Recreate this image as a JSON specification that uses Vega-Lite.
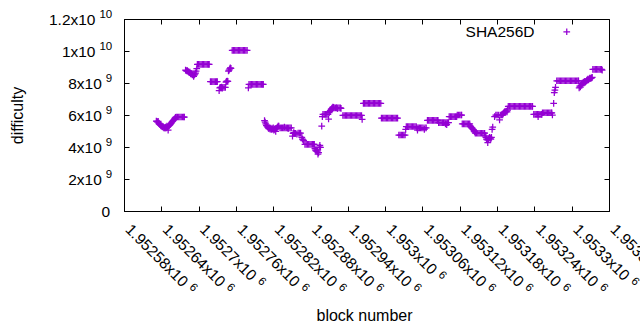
{
  "$schema": "https://vega.github.io/schema/vega-lite/v6.json",
  "width": 485,
  "height": 192,
  "autosize": {"type": "none"},
  "padding": {"left": 124, "top": 19, "right": 31, "bottom": 119},
  "background": "white",
  "config": {
    "font": "Liberation Sans",
    "view": {"stroke": "black", "strokeWidth": 1},
    "axis": {
      "grid": false,
      "domainColor": "black",
      "tickColor": "black",
      "tickSize": -5,
      "labelColor": "black",
      "titleColor": "black",
      "labelFont": "Liberation Sans",
      "titleFont": "Liberation Sans",
      "labelFontSize": 15.5,
      "titleFontSize": 16,
      "titleFontWeight": "normal"
    },
    "legend": {"labelFont": "Liberation Sans"}
  },
  "data": {
    "values": [
      {"block":1952632,"diff":5.62e9},{"block":1952633,"diff":5.6e9},{"block":1952634,"diff":5.55e9},{"block":1952635,"diff":5.6e9},{"block":1952636,"diff":5.5e9},{"block":1952637,"diff":5.45e9},{"block":1952638,"diff":5.4e9},{"block":1952639,"diff":5.35e9},{"block":1952640,"diff":5.3e9},{"block":1952641,"diff":5.3e9},{"block":1952642,"diff":5.25e9},{"block":1952643,"diff":5.28e9},{"block":1952644,"diff":5.2e9},{"block":1952645,"diff":5.22e9},{"block":1952646,"diff":5.18e9},{"block":1952647,"diff":5.25e9},{"block":1952648,"diff":5.2e9},{"block":1952649,"diff":5.3e9},{"block":1952650,"diff":5.25e9},{"block":1952651,"diff":5.05e9},{"block":1952652,"diff":5.3e9},{"block":1952653,"diff":5.35e9},{"block":1952654,"diff":5.4e9},{"block":1952655,"diff":5.45e9},{"block":1952656,"diff":5.5e9},{"block":1952657,"diff":5.55e9},{"block":1952658,"diff":5.6e9},{"block":1952659,"diff":5.65e9},{"block":1952660,"diff":5.7e9},{"block":1952661,"diff":5.75e9},{"block":1952662,"diff":5.8e9},{"block":1952663,"diff":5.85e9},
      {"block":1952664,"diff":5.875e9},{"block":1952666,"diff":5.875e9},{"block":1952668,"diff":5.875e9},{"block":1952670,"diff":5.875e9},{"block":1952672,"diff":5.875e9},{"block":1952674,"diff":5.875e9},{"block":1952676,"diff":5.875e9},{"block":1952677,"diff":5.875e9},
      {"block":1952679,"diff":8.8e9},{"block":1952680,"diff":8.78e9},{"block":1952681,"diff":8.75e9},{"block":1952682,"diff":8.78e9},{"block":1952683,"diff":8.72e9},{"block":1952684,"diff":8.7e9},{"block":1952685,"diff":8.65e9},{"block":1952686,"diff":8.68e9},{"block":1952687,"diff":8.6e9},{"block":1952688,"diff":8.55e9},{"block":1952689,"diff":8.6e9},{"block":1952690,"diff":8.5e9},{"block":1952691,"diff":8.55e9},{"block":1952692,"diff":8.42e9},{"block":1952693,"diff":8.5e9},{"block":1952694,"diff":8.55e9},{"block":1952695,"diff":8.62e9},{"block":1952696,"diff":8.75e9},{"block":1952697,"diff":8.9e9},
      {"block":1952698,"diff":9.17e9},{"block":1952700,"diff":9.17e9},{"block":1952702,"diff":9.17e9},{"block":1952704,"diff":9.17e9},{"block":1952706,"diff":9.17e9},{"block":1952708,"diff":9.17e9},{"block":1952710,"diff":9.17e9},{"block":1952712,"diff":9.17e9},{"block":1952714,"diff":9.17e9},{"block":1952716,"diff":9.17e9},{"block":1952717,"diff":9.17e9},
      {"block":1952719,"diff":8.08e9},{"block":1952721,"diff":8.08e9},{"block":1952723,"diff":8.08e9},{"block":1952725,"diff":8.08e9},{"block":1952727,"diff":8.08e9},{"block":1952729,"diff":8.08e9},{"block":1952730,"diff":8.08e9},
      {"block":1952733,"diff":7.52e9},{"block":1952734,"diff":7.7e9},{"block":1952735,"diff":7.73e9},{"block":1952737,"diff":7.75e9},{"block":1952738,"diff":7.68e9},{"block":1952739,"diff":7.73e9},{"block":1952741,"diff":7.73e9},{"block":1952743,"diff":7.73e9},{"block":1952744,"diff":8.05e9},{"block":1952745,"diff":8.1e9},{"block":1952746,"diff":8.12e9},{"block":1952747,"diff":8.1e9},{"block":1952748,"diff":8.75e9},{"block":1952749,"diff":8.8e9},{"block":1952750,"diff":8.88e9},{"block":1952751,"diff":8.95e9},{"block":1952752,"diff":8.92e9},
      {"block":1952754,"diff":1.0044e10},{"block":1952756,"diff":1.0044e10},{"block":1952758,"diff":1.0044e10},{"block":1952760,"diff":1.0044e10},{"block":1952762,"diff":1.0044e10},{"block":1952764,"diff":1.0044e10},{"block":1952766,"diff":1.0044e10},{"block":1952768,"diff":1.0044e10},{"block":1952770,"diff":1.0044e10},{"block":1952772,"diff":1.0044e10},{"block":1952774,"diff":1.0044e10},{"block":1952776,"diff":1.0044e10},{"block":1952778,"diff":1.0044e10},
      {"block":1952780,"diff":7.7e9},{"block":1952781,"diff":7.92e9},{"block":1952783,"diff":7.92e9},{"block":1952785,"diff":7.92e9},{"block":1952787,"diff":7.92e9},{"block":1952789,"diff":7.92e9},{"block":1952791,"diff":7.92e9},{"block":1952793,"diff":7.92e9},{"block":1952795,"diff":7.92e9},{"block":1952797,"diff":7.92e9},{"block":1952799,"diff":7.92e9},{"block":1952801,"diff":7.92e9},{"block":1952803,"diff":7.92e9},{"block":1952804,"diff":7.92e9},
      {"block":1952806,"diff":5.65e9},{"block":1952807,"diff":5.55e9},{"block":1952808,"diff":5.45e9},{"block":1952809,"diff":5.35e9},{"block":1952810,"diff":5.3e9},{"block":1952811,"diff":5.25e9},{"block":1952812,"diff":5.2e9},{"block":1952813,"diff":5.15e9},{"block":1952814,"diff":5.2e9},{"block":1952815,"diff":5.12e9},{"block":1952816,"diff":5.18e9},{"block":1952817,"diff":5.1e9},{"block":1952818,"diff":5.15e9},{"block":1952819,"diff":5.12e9},{"block":1952820,"diff":5.2e9},{"block":1952821,"diff":5.05e9},{"block":1952822,"diff":5.1e9},{"block":1952823,"diff":5.15e9},{"block":1952824,"diff":4.98e9},{"block":1952825,"diff":5.15e9},{"block":1952826,"diff":5.2e9},{"block":1952827,"diff":5.25e9},{"block":1952828,"diff":5.3e9},{"block":1952829,"diff":5.3e9},
      {"block":1952831,"diff":5.2e9},{"block":1952833,"diff":5.2e9},{"block":1952835,"diff":5.2e9},{"block":1952837,"diff":5.2e9},{"block":1952838,"diff":5.25e9},{"block":1952839,"diff":5.2e9},{"block":1952841,"diff":5.2e9},{"block":1952843,"diff":5.2e9},{"block":1952844,"diff":5.15e9},{"block":1952845,"diff":5.2e9},{"block":1952847,"diff":5.2e9},{"block":1952849,"diff":5.2e9},
      {"block":1952851,"diff":4.68e9},{"block":1952852,"diff":4.85e9},{"block":1952853,"diff":4.9e9},{"block":1952854,"diff":4.85e9},{"block":1952856,"diff":4.85e9},{"block":1952858,"diff":4.8e9},{"block":1952860,"diff":4.87e9},{"block":1952862,"diff":4.87e9},{"block":1952864,"diff":4.87e9},{"block":1952866,"diff":4.6e9},{"block":1952867,"diff":4.5e9},{"block":1952868,"diff":4.45e9},{"block":1952869,"diff":4.4e9},
      {"block":1952871,"diff":4.17e9},{"block":1952873,"diff":4.17e9},{"block":1952875,"diff":4.17e9},{"block":1952877,"diff":4.17e9},{"block":1952879,"diff":4.17e9},{"block":1952881,"diff":4.17e9},{"block":1952883,"diff":4.17e9},{"block":1952885,"diff":4.17e9},{"block":1952886,"diff":4.17e9},
      {"block":1952887,"diff":3.9e9},{"block":1952888,"diff":3.8e9},{"block":1952889,"diff":3.75e9},{"block":1952890,"diff":3.8e9},{"block":1952891,"diff":3.7e9},{"block":1952892,"diff":3.55e9},{"block":1952893,"diff":3.65e9},{"block":1952894,"diff":4.0e9},{"block":1952895,"diff":4.1e9},{"block":1952896,"diff":3.98e9},
      {"block":1952898,"diff":5.3e9},{"block":1952899,"diff":5.9e9},{"block":1952900,"diff":6.04e9},{"block":1952902,"diff":6.04e9},{"block":1952904,"diff":6.04e9},{"block":1952906,"diff":6.04e9},{"block":1952908,"diff":6.04e9},{"block":1952909,"diff":5.75e9},
      {"block":1952910,"diff":6.15e9},{"block":1952911,"diff":6.22e9},{"block":1952912,"diff":6.28e9},{"block":1952913,"diff":6.35e9},{"block":1952914,"diff":6.4e9},{"block":1952915,"diff":6.45e9},{"block":1952916,"diff":6.5e9},{"block":1952917,"diff":6.48e9},{"block":1952918,"diff":6.44e9},{"block":1952920,"diff":6.44e9},{"block":1952922,"diff":6.46e9},{"block":1952923,"diff":6.4e9},{"block":1952924,"diff":6.44e9},{"block":1952926,"diff":6.44e9},{"block":1952928,"diff":6.44e9},{"block":1952929,"diff":6.42e9},
      {"block":1952932,"diff":5.97e9},{"block":1952934,"diff":5.97e9},{"block":1952936,"diff":5.97e9},{"block":1952938,"diff":5.97e9},{"block":1952940,"diff":5.97e9},{"block":1952942,"diff":5.97e9},{"block":1952944,"diff":5.97e9},{"block":1952946,"diff":5.97e9},{"block":1952948,"diff":5.97e9},{"block":1952950,"diff":5.97e9},{"block":1952952,"diff":5.97e9},{"block":1952954,"diff":5.97e9},{"block":1952956,"diff":5.97e9},{"block":1952958,"diff":5.97e9},{"block":1952960,"diff":5.97e9},{"block":1952962,"diff":5.97e9},{"block":1952963,"diff":5.73e9},
      {"block":1952965,"diff":6.73e9},{"block":1952967,"diff":6.73e9},{"block":1952969,"diff":6.73e9},{"block":1952971,"diff":6.73e9},{"block":1952973,"diff":6.73e9},{"block":1952975,"diff":6.73e9},{"block":1952977,"diff":6.73e9},{"block":1952979,"diff":6.73e9},{"block":1952981,"diff":6.73e9},{"block":1952983,"diff":6.73e9},{"block":1952985,"diff":6.73e9},{"block":1952987,"diff":6.73e9},{"block":1952989,"diff":6.73e9},{"block":1952991,"diff":6.73e9},{"block":1952993,"diff":6.73e9},
      {"block":1952994,"diff":5.81e9},{"block":1952996,"diff":5.81e9},{"block":1952998,"diff":5.81e9},{"block":1953000,"diff":5.81e9},{"block":1953002,"diff":5.81e9},{"block":1953004,"diff":5.81e9},{"block":1953006,"diff":5.81e9},{"block":1953008,"diff":5.81e9},{"block":1953010,"diff":5.81e9},{"block":1953012,"diff":5.81e9},{"block":1953014,"diff":5.81e9},{"block":1953016,"diff":5.81e9},{"block":1953018,"diff":5.81e9},{"block":1953020,"diff":5.81e9},
      {"block":1953022,"diff":4.75e9},{"block":1953024,"diff":4.75e9},{"block":1953026,"diff":4.75e9},{"block":1953028,"diff":4.75e9},{"block":1953030,"diff":4.75e9},{"block":1953032,"diff":4.75e9},
      {"block":1953033,"diff":5.1e9},{"block":1953034,"diff":5.28e9},{"block":1953036,"diff":5.28e9},{"block":1953038,"diff":5.28e9},{"block":1953040,"diff":5.28e9},{"block":1953042,"diff":5.28e9},{"block":1953044,"diff":5.28e9},{"block":1953046,"diff":5.28e9},{"block":1953048,"diff":5.28e9},{"block":1953050,"diff":5.28e9},
      {"block":1953051,"diff":5.19e9},{"block":1953052,"diff":5.05e9},{"block":1953053,"diff":5.19e9},{"block":1953055,"diff":5.19e9},{"block":1953057,"diff":5.19e9},{"block":1953059,"diff":5.19e9},{"block":1953061,"diff":5.19e9},{"block":1953063,"diff":5.1e9},{"block":1953064,"diff":5.19e9},{"block":1953066,"diff":5.19e9},
      {"block":1953068,"diff":5.67e9},{"block":1953070,"diff":5.67e9},{"block":1953072,"diff":5.67e9},{"block":1953074,"diff":5.67e9},{"block":1953076,"diff":5.67e9},{"block":1953078,"diff":5.67e9},{"block":1953080,"diff":5.67e9},{"block":1953082,"diff":5.67e9},{"block":1953084,"diff":5.67e9},{"block":1953085,"diff":5.67e9},
      {"block":1953086,"diff":5.52e9},{"block":1953088,"diff":5.52e9},{"block":1953090,"diff":5.52e9},{"block":1953092,"diff":5.52e9},{"block":1953094,"diff":5.52e9},{"block":1953096,"diff":5.52e9},{"block":1953097,"diff":5.45e9},{"block":1953098,"diff":5.52e9},{"block":1953099,"diff":5.4e9},{"block":1953100,"diff":5.52e9},{"block":1953102,"diff":5.52e9},
      {"block":1953103,"diff":5.9e9},{"block":1953105,"diff":5.9e9},{"block":1953107,"diff":5.9e9},{"block":1953109,"diff":5.9e9},{"block":1953111,"diff":5.9e9},{"block":1953113,"diff":5.9e9},{"block":1953115,"diff":5.9e9},{"block":1953116,"diff":6.0e9},{"block":1953118,"diff":6.0e9},{"block":1953120,"diff":6.0e9},{"block":1953122,"diff":6.0e9},{"block":1953123,"diff":6.0e9},
      {"block":1953124,"diff":5.44e9},{"block":1953126,"diff":5.44e9},{"block":1953128,"diff":5.44e9},{"block":1953130,"diff":5.44e9},{"block":1953132,"diff":5.44e9},{"block":1953134,"diff":5.44e9},{"block":1953136,"diff":5.44e9},
      {"block":1953137,"diff":5.3e9},{"block":1953138,"diff":5.25e9},{"block":1953139,"diff":5.2e9},{"block":1953140,"diff":5.18e9},{"block":1953141,"diff":5.12e9},{"block":1953142,"diff":5.08e9},{"block":1953143,"diff":5.0e9},{"block":1953144,"diff":4.95e9},
      {"block":1953145,"diff":4.86e9},{"block":1953147,"diff":4.86e9},{"block":1953149,"diff":4.86e9},{"block":1953151,"diff":4.86e9},{"block":1953153,"diff":4.86e9},{"block":1953155,"diff":4.86e9},{"block":1953157,"diff":4.86e9},{"block":1953159,"diff":4.86e9},{"block":1953160,"diff":4.86e9},
      {"block":1953161,"diff":4.7e9},{"block":1953162,"diff":4.6e9},{"block":1953163,"diff":4.5e9},{"block":1953164,"diff":4.45e9},{"block":1953165,"diff":4.27e9},{"block":1953166,"diff":4.5e9},{"block":1953167,"diff":4.55e9},{"block":1953168,"diff":4.6e9},{"block":1953169,"diff":4.55e9},{"block":1953170,"diff":4.5e9},{"block":1953171,"diff":4.6e9},
      {"block":1953172,"diff":5.1e9},{"block":1953173,"diff":5.25e9},{"block":1953176,"diff":5.9e9},
      {"block":1953178,"diff":6.0e9},{"block":1953180,"diff":6.0e9},{"block":1953182,"diff":6.0e9},{"block":1953184,"diff":5.69e9},{"block":1953185,"diff":6.0e9},{"block":1953187,"diff":6.0e9},{"block":1953189,"diff":6.0e9},
      {"block":1953190,"diff":6.1e9},{"block":1953191,"diff":6.15e9},{"block":1953192,"diff":6.2e9},{"block":1953193,"diff":6.22e9},{"block":1953194,"diff":6.2e9},{"block":1953195,"diff":6.25e9},{"block":1953196,"diff":6.2e9},{"block":1953197,"diff":6.3e9},
      {"block":1953198,"diff":6.54e9},{"block":1953200,"diff":6.54e9},{"block":1953202,"diff":6.54e9},{"block":1953204,"diff":6.54e9},{"block":1953206,"diff":6.54e9},{"block":1953208,"diff":6.54e9},{"block":1953210,"diff":6.54e9},{"block":1953212,"diff":6.54e9},{"block":1953214,"diff":6.54e9},{"block":1953216,"diff":6.54e9},{"block":1953218,"diff":6.54e9},{"block":1953220,"diff":6.54e9},{"block":1953222,"diff":6.54e9},{"block":1953224,"diff":6.54e9},{"block":1953226,"diff":6.54e9},{"block":1953228,"diff":6.54e9},{"block":1953230,"diff":6.54e9},{"block":1953232,"diff":6.54e9},{"block":1953234,"diff":6.54e9},{"block":1953236,"diff":6.54e9},{"block":1953237,"diff":6.54e9},
      {"block":1953239,"diff":6.04e9},{"block":1953241,"diff":6.04e9},{"block":1953243,"diff":6.04e9},{"block":1953245,"diff":6.04e9},{"block":1953246,"diff":5.9e9},{"block":1953247,"diff":6.04e9},{"block":1953249,"diff":6.04e9},{"block":1953251,"diff":6.04e9},{"block":1953252,"diff":6.04e9},
      {"block":1953253,"diff":6.14e9},{"block":1953255,"diff":6.14e9},{"block":1953257,"diff":6.14e9},{"block":1953259,"diff":6.14e9},{"block":1953261,"diff":6.14e9},{"block":1953263,"diff":6.14e9},{"block":1953265,"diff":6.14e9},{"block":1953267,"diff":6.14e9},{"block":1953268,"diff":6.14e9},{"block":1953269,"diff":6.0e9},
      {"block":1953271,"diff":6.73e9},{"block":1953272,"diff":7.4e9},{"block":1953273,"diff":7.56e9},{"block":1953274,"diff":7.73e9},
      {"block":1953276,"diff":8.14e9},{"block":1953278,"diff":8.14e9},{"block":1953280,"diff":8.14e9},{"block":1953282,"diff":8.14e9},{"block":1953284,"diff":8.14e9},{"block":1953286,"diff":8.14e9},{"block":1953288,"diff":8.14e9},{"block":1953290,"diff":8.14e9},{"block":1953292,"diff":8.14e9},{"block":1953294,"diff":8.14e9},{"block":1953296,"diff":8.14e9},{"block":1953298,"diff":8.14e9},{"block":1953300,"diff":8.14e9},{"block":1953302,"diff":8.14e9},{"block":1953304,"diff":8.14e9},{"block":1953306,"diff":8.14e9},{"block":1953308,"diff":8.14e9},{"block":1953310,"diff":8.14e9},{"block":1953311,"diff":8.14e9},
      {"block":1953312,"diff":7.7e9},{"block":1953313,"diff":7.8e9},{"block":1953314,"diff":7.75e9},{"block":1953315,"diff":7.85e9},
      {"block":1953316,"diff":7.95e9},{"block":1953317,"diff":8.0e9},{"block":1953318,"diff":8.0e9},{"block":1953319,"diff":8.05e9},{"block":1953320,"diff":8.0e9},{"block":1953321,"diff":8.1e9},{"block":1953322,"diff":8.05e9},{"block":1953323,"diff":8.1e9},
      {"block":1953324,"diff":8.15e9},{"block":1953325,"diff":8.2e9},{"block":1953326,"diff":8.25e9},{"block":1953327,"diff":8.2e9},{"block":1953328,"diff":8.25e9},{"block":1953329,"diff":8.3e9},{"block":1953330,"diff":8.28e9},{"block":1953331,"diff":8.3e9},{"block":1953332,"diff":8.32e9},{"block":1953333,"diff":8.35e9},
      {"block":1953334,"diff":8.85e9},{"block":1953336,"diff":8.85e9},{"block":1953338,"diff":8.85e9},{"block":1953340,"diff":8.85e9},{"block":1953342,"diff":8.85e9},{"block":1953344,"diff":8.85e9},{"block":1953346,"diff":8.85e9},{"block":1953348,"diff":8.85e9},{"block":1953349,"diff":8.8e9}
    ]
  },
  "resolve": {"axis": {"x": "independent", "y": "independent"}},
  "layer": [
    {
      "mark": {"type": "point", "shape": "M-1,0H1M0,-1V1", "filled": false, "strokeWidth": 1.25, "size": 45, "opacity": 1},
      "encoding": {
        "x": {
          "field": "block", "type": "quantitative",
          "scale": {"domain": [1952580, 1953360], "nice": false, "zero": false},
          "axis": {
            "orient": "bottom",
            "values": [1952580,1952640,1952700,1952760,1952820,1952880,1952940,1953000,1953060,1953120,1953180,1953240,1953300,1953360],
            "labelExpr": "format(datum.value/1e6, '.6~f') + 'x10'",
            "labelAngle": 45, "labelAlign": "left", "labelBaseline": "alphabetic",
            "labelPadding": 24, "labelFlush": false, "labelOverlap": false, "labelBound": false,
            "title": "block number", "titleX": 240, "titleY": 104, "titleBaseline": "middle"
          }
        },
        "y": {
          "field": "diff", "type": "quantitative",
          "scale": {"domain": [0, 1.2e10], "nice": false},
          "axis": {
            "orient": "left",
            "values": [0, 2e9, 4e9, 6e9, 8e9, 1e10, 1.2e10],
            "labelExpr": "datum.value == 0 ? '0' : (datum.value < 1e10 ? format(datum.value/1e9, '~g') + 'x10' : format(datum.value/1e10, '~g') + 'x10')",
            "labelPadding": {"expr": "datum.value >= 1e10 ? 34 : (datum.value > 0 ? 27.7 : 19.3)"},
            "labelFlush": false, "labelOverlap": false,
            "title": "difficulty", "titleX": -107, "titleY": 96, "titleAlign": "center", "titleBaseline": "middle", "titleAngle": 270
          }
        },
        "color": {
          "datum": "SHA256D",
          "scale": {"range": ["#9400d3"]},
          "legend": {
            "title": null, "orient": "none", "legendX": 409, "legendY": 5,
            "padding": 0, "symbolType": "M-1,0H1M0,-1V1", "symbolSize": 45, "symbolStrokeWidth": 1.25,
            "symbolFillColor": "transparent",
            "labelFontSize": 15.5, "labelColor": "black", "labelAlign": "right", "labelOffset": -40, "symbolOffset": 26
          }
        }
      }
    },
    {
      "mark": {"type": "point", "opacity": 0},
      "encoding": {
        "x": {"field": "block", "type": "quantitative", "axis": {"orient": "top", "labels": false, "title": null, "domain": false, "values": [1952580,1952640,1952700,1952760,1952820,1952880,1952940,1953000,1953060,1953120,1953180,1953240,1953300,1953360]}},
        "y": {"field": "diff", "type": "quantitative", "axis": {"orient": "right", "labels": false, "title": null, "domain": false, "values": [0, 2e9, 4e9, 6e9, 8e9, 1e10, 1.2e10]}}
      }
    },
    {
      "mark": {"type": "point", "opacity": 0},
      "encoding": {
        "x": {
          "field": "block", "type": "quantitative",
          "axis": {
            "orient": "bottom", "title": null, "domain": false, "ticks": false, "tickSize": 0,
            "values": [1952580,1952640,1952700,1952760,1952820,1952880,1952940,1953000,1953060,1953120,1953180,1953240,1953300,1953360],
            "labelExpr": "'6'",
            "labelFontSize": 11.5, "labelAngle": 45, "labelAlign": "left", "labelBaseline": "alphabetic",
            "labelFlush": false, "labelOverlap": false, "labelBound": false,
            "labelOffset": {"expr": "datum.value % 100 != 0 ? 64.3 : (datum.value % 1000 != 0 ? 58.2 : 52.2)"},
            "labelPadding": {"expr": "datum.value % 100 != 0 ? 76.3 : (datum.value % 1000 != 0 ? 70.2 : 64.1)"}
          }
        },
        "y": {
          "field": "diff", "type": "quantitative",
          "axis": {
            "orient": "left", "title": null, "domain": false, "ticks": false, "tickSize": 0,
            "values": [0, 2e9, 4e9, 6e9, 8e9, 1e10, 1.2e10],
            "labelExpr": "datum.value == 0 ? '' : (datum.value < 1e10 ? '9' : '10')",
            "labelFontSize": 11.5, "labelAlign": "right", "labelPadding": 12.3, "labelOffset": -5,
            "labelFlush": false, "labelOverlap": false
          }
        }
      }
    }
  ]
}
